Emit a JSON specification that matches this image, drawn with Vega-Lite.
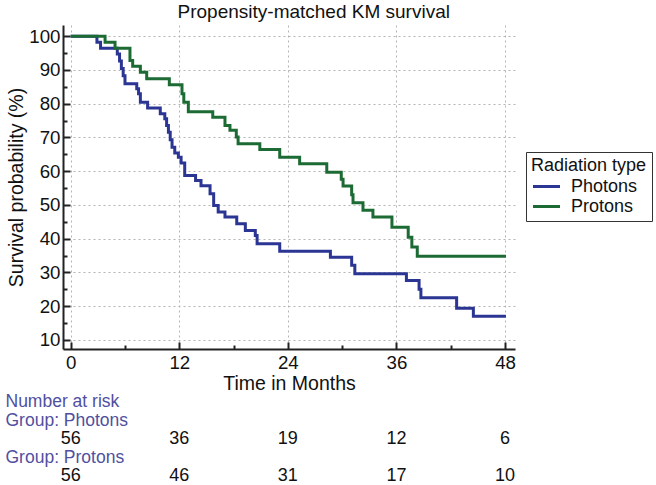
{
  "$schema": "https://vega.github.io/schema/vega-lite/v6.json",
  "padding": {"left": 5, "top": 3, "right": 4, "bottom": 0},
  "bounds": "flush",
  "spacing": 44,
  "title": {"text": "Propensity-matched KM survival", "font": "Liberation Sans", "fontSize": 19, "fontWeight": "normal", "color": "#111111", "anchor": "middle", "dx": -15, "offset": 3},
  "config": {"view": {"stroke": null}, "font": "Liberation Sans"},
  "vconcat": [
    {
      "width": 452,
      "height": 324,
      "data": {"values": [
        {"group": "Photons", "t": 0, "s": 100},
        {"group": "Photons", "t": 2.9, "s": 98.2},
        {"group": "Photons", "t": 3.3, "s": 96.4},
        {"group": "Photons", "t": 5.15, "s": 94.7},
        {"group": "Photons", "t": 5.4, "s": 92.6},
        {"group": "Photons", "t": 5.6, "s": 90.4},
        {"group": "Photons", "t": 5.8, "s": 88.3},
        {"group": "Photons", "t": 6.0, "s": 85.9},
        {"group": "Photons", "t": 7.3, "s": 84.4},
        {"group": "Photons", "t": 7.5, "s": 82.9},
        {"group": "Photons", "t": 7.7, "s": 80.4},
        {"group": "Photons", "t": 8.5, "s": 78.7},
        {"group": "Photons", "t": 9.9, "s": 77.0},
        {"group": "Photons", "t": 10.4, "s": 75.5},
        {"group": "Photons", "t": 10.6, "s": 73.5},
        {"group": "Photons", "t": 10.8, "s": 71.5},
        {"group": "Photons", "t": 11.0, "s": 69.3},
        {"group": "Photons", "t": 11.2, "s": 67.1},
        {"group": "Photons", "t": 11.5, "s": 65.4},
        {"group": "Photons", "t": 11.9, "s": 64.1},
        {"group": "Photons", "t": 12.2, "s": 62.4},
        {"group": "Photons", "t": 12.6, "s": 58.7},
        {"group": "Photons", "t": 13.8, "s": 57.2},
        {"group": "Photons", "t": 14.4, "s": 55.7},
        {"group": "Photons", "t": 15.4, "s": 53.3},
        {"group": "Photons", "t": 15.8, "s": 49.8},
        {"group": "Photons", "t": 16.3, "s": 47.9},
        {"group": "Photons", "t": 17.05, "s": 46.4},
        {"group": "Photons", "t": 18.35, "s": 44.4},
        {"group": "Photons", "t": 19.3, "s": 42.4},
        {"group": "Photons", "t": 20.4, "s": 40.9},
        {"group": "Photons", "t": 20.6, "s": 38.5},
        {"group": "Photons", "t": 23.1, "s": 36.3},
        {"group": "Photons", "t": 28.7, "s": 34.5},
        {"group": "Photons", "t": 31.05, "s": 32.1},
        {"group": "Photons", "t": 31.4, "s": 29.6},
        {"group": "Photons", "t": 37.1, "s": 27.6},
        {"group": "Photons", "t": 38.5, "s": 25.0},
        {"group": "Photons", "t": 38.7, "s": 22.5},
        {"group": "Photons", "t": 42.65, "s": 19.4},
        {"group": "Photons", "t": 44.5, "s": 17.0},
        {"group": "Photons", "t": 48.1, "s": 17.0},
        {"group": "Protons", "t": 0, "s": 100},
        {"group": "Protons", "t": 3.8, "s": 98.2},
        {"group": "Protons", "t": 4.9, "s": 96.4},
        {"group": "Protons", "t": 6.55, "s": 92.8},
        {"group": "Protons", "t": 6.85, "s": 91.1},
        {"group": "Protons", "t": 7.7, "s": 89.3},
        {"group": "Protons", "t": 8.4, "s": 87.4},
        {"group": "Protons", "t": 10.9, "s": 85.6},
        {"group": "Protons", "t": 12.3, "s": 82.9},
        {"group": "Protons", "t": 12.5, "s": 80.4},
        {"group": "Protons", "t": 13.0, "s": 77.6},
        {"group": "Protons", "t": 15.7, "s": 76.0},
        {"group": "Protons", "t": 17.05, "s": 73.5},
        {"group": "Protons", "t": 17.6, "s": 72.1},
        {"group": "Protons", "t": 18.3, "s": 70.1},
        {"group": "Protons", "t": 18.5, "s": 68.1},
        {"group": "Protons", "t": 20.9, "s": 66.4},
        {"group": "Protons", "t": 23.1, "s": 64.1},
        {"group": "Protons", "t": 25.3, "s": 62.2},
        {"group": "Protons", "t": 28.3, "s": 59.7},
        {"group": "Protons", "t": 29.9, "s": 57.6},
        {"group": "Protons", "t": 30.1, "s": 55.6},
        {"group": "Protons", "t": 31.05, "s": 53.0},
        {"group": "Protons", "t": 31.2, "s": 50.6},
        {"group": "Protons", "t": 32.3, "s": 48.4},
        {"group": "Protons", "t": 33.4, "s": 46.4},
        {"group": "Protons", "t": 35.5, "s": 43.4},
        {"group": "Protons", "t": 37.3, "s": 40.4},
        {"group": "Protons", "t": 37.7, "s": 37.5},
        {"group": "Protons", "t": 38.3, "s": 34.8},
        {"group": "Protons", "t": 48.1, "s": 34.8}
      ]},
      "mark": {"type": "line", "interpolate": "step-after", "strokeWidth": 3},
      "encoding": {
        "x": {
          "field": "t", "type": "quantitative",
          "scale": {"domain": [-0.85, 49.1], "nice": false, "zero": false},
          "axis": {
            "title": "Time in Months",
            "values": [0, 6, 12, 18, 24, 30, 36, 42, 48],
            "labelExpr": "datum.value % 12 == 0 ? datum.label : ''",
            "labelFontSize": 18.7, "labelColor": "#111111", "labelPadding": 11, "labelFlush": false,
            "titleFontSize": 19.5, "titleFontWeight": "normal", "titleColor": "#111111", "titlePadding": 3,
            "domainColor": "#222222", "domainWidth": 2,
            "tickColor": "#222222", "tickWidth": 2,
            "tickSize": {"condition": {"test": "datum.value % 12 == 0", "value": -7}, "value": -4},
            "grid": true, "gridColor": "#b4b4b4", "gridDash": [2, 3], "gridWidth": 1,
            "gridOpacity": {"condition": {"test": "datum.value % 12 == 0", "value": 1}, "value": 0}
          }
        },
        "y": {
          "field": "s", "type": "quantitative",
          "scale": {"domain": [7.3, 103.3], "nice": false, "zero": false},
          "axis": {
            "title": "Survival probability (%)",
            "values": [10, 15, 20, 25, 30, 35, 40, 45, 50, 55, 60, 65, 70, 75, 80, 85, 90, 95, 100],
            "labelExpr": "datum.value % 10 == 0 ? datum.label : ''",
            "labelFontSize": 18.7, "labelColor": "#111111", "labelPadding": 10,
            "titleFontSize": 19.5, "titleFontWeight": "normal", "titleColor": "#111111", "titlePadding": 2,
            "domainColor": "#222222", "domainWidth": 2,
            "tickColor": "#222222", "tickWidth": 2,
            "tickSize": {"condition": {"test": "datum.value % 10 == 0", "value": -7}, "value": -4},
            "grid": true, "gridColor": "#b4b4b4", "gridDash": [2, 3], "gridWidth": 1,
            "gridOpacity": {"condition": {"test": "datum.value % 10 == 0", "value": 1}, "value": 0}
          }
        },
        "color": {
          "field": "group", "type": "nominal",
          "scale": {"domain": ["Photons", "Protons"], "range": ["#2b3593", "#1d6b34"]},
          "legend": {
            "title": "Radiation type",
            "orient": "none", "legendX": 463, "legendY": 127,
            "titleFontSize": 18, "titleFontWeight": "normal", "titleColor": "#111111", "titlePadding": 1,
            "labelFontSize": 18, "labelColor": "#111111", "labelOffset": 14,
            "symbolType": "M-1.5,0H1.5", "symbolSize": 324, "symbolStrokeWidth": 3, "symbolOffset": 5,
            "rowPadding": 0,
            "strokeColor": "#333333", "padding": 5
          }
        }
      }
    },
    {
      "width": 452,
      "height": 92,
      "data": {"values": [
        {"row": "Photons", "t": 0, "n": 56},
        {"row": "Photons", "t": 12, "n": 36},
        {"row": "Photons", "t": 24, "n": 19},
        {"row": "Photons", "t": 36, "n": 12},
        {"row": "Photons", "t": 48, "n": 6},
        {"row": "Protons", "t": 0, "n": 56},
        {"row": "Protons", "t": 12, "n": 46},
        {"row": "Protons", "t": 24, "n": 31},
        {"row": "Protons", "t": 36, "n": 17},
        {"row": "Protons", "t": 48, "n": 10}
      ]},
      "mark": {"type": "text", "fontSize": 18, "color": "#111111", "font": "Liberation Sans"},
      "encoding": {
        "x": {"field": "t", "type": "quantitative", "scale": {"domain": [-0.85, 49.1], "nice": false, "zero": false}, "axis": null},
        "y": {
          "field": "row", "type": "nominal",
          "scale": {"type": "point", "domain": ["Number at risk", "Group: Photons", "Photons", "Group: Protons", "Protons"], "padding": 0.46},
          "axis": {
            "title": null, "domain": false, "ticks": false, "grid": false,
            "labelAlign": "left", "labelPadding": 58, "labelFontSize": 17.5, "labelColor": "#50509f",
            "labelExpr": "(slice(datum.label, 0, 5) == 'Group' || datum.label == 'Number at risk') ? datum.label : ''"
          }
        },
        "text": {"field": "n", "type": "quantitative"}
      }
    }
  ]
}
